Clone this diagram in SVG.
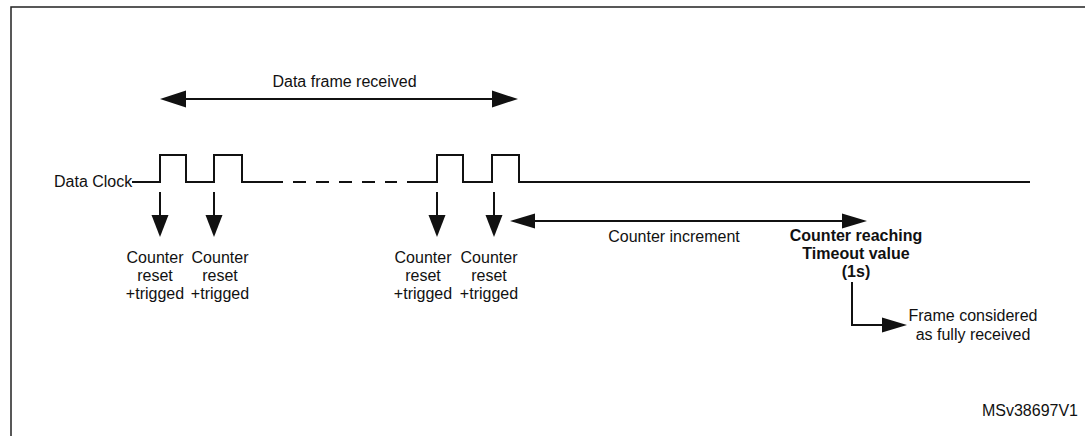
<svg xmlns="http://www.w3.org/2000/svg" width="1085" height="436" viewBox="0 0 1085 436">
<style>
text{font-family:"Liberation Sans",Arial,sans-serif;font-size:16px;fill:#111}
.b{font-weight:bold}
.ln{stroke:#111;stroke-width:2;fill:none}
.hd{fill:#111;stroke:none}
</style>
<rect x="11" y="7" width="1100" height="460" fill="#fff" stroke="#222" stroke-width="1.5"/>
<g id="connectors">
<path class="ln" d="M132,182 H160 V155 H186 V182 H214 V155 H242 V182 H283"/>
<path class="ln" d="M293,182 H397" stroke-dasharray="13,10"/>
<path class="ln" d="M407,182 H437 V155 H463 V182 H492 V155 H519 V182 H1030"/>
<path class="ln" d="M184,99 H494"/>
<polygon class="hd" points="160,99 186,90.5 186,107.5"/>
<polygon class="hd" points="518,99 492,90.5 492,107.5"/>
<path class="ln" d="M533,221 H844"/>
<polygon class="hd" points="510,221 535,213.5 535,228.5"/>
<polygon class="hd" points="867,221 842,213.5 842,228.5"/>
<path class="ln" d="M160,192 V216 M214,192 V216 M437,192 V216 M494,192 V216"/>
<polygon class="hd" points="151.5,215 168.5,215 160,237"/>
<polygon class="hd" points="205.5,215 222.5,215 214,237"/>
<polygon class="hd" points="428.5,215 445.5,215 437,237"/>
<polygon class="hd" points="485.5,215 502.5,215 494,237"/>
<path class="ln" d="M852,282 V325 H884"/>
<polygon class="hd" points="907,325 882,317.5 882,332.5"/>
</g>
<g id="label-clock"><text x="54" y="187">Data Clock</text></g>
<g id="label-frame"><text x="344.5" y="87" text-anchor="middle">Data frame received</text></g>
<g id="c1"><text text-anchor="middle" x="155" y="263">Counter<tspan x="155" dy="18">reset</tspan><tspan x="155" dy="18">+trigged</tspan></text></g>
<g id="c2"><text text-anchor="middle" x="220" y="263">Counter<tspan x="220" dy="18">reset</tspan><tspan x="220" dy="18">+trigged</tspan></text></g>
<g id="c3"><text text-anchor="middle" x="423" y="263">Counter<tspan x="423" dy="18">reset</tspan><tspan x="423" dy="18">+trigged</tspan></text></g>
<g id="c4"><text text-anchor="middle" x="489" y="263">Counter<tspan x="489" dy="18">reset</tspan><tspan x="489" dy="18">+trigged</tspan></text></g>
<g id="label-increment"><text x="674" y="242" text-anchor="middle">Counter increment</text></g>
<g id="timeout"><text class="b" text-anchor="middle" x="856" y="241">Counter reaching<tspan x="856" dy="18">Timeout value</tspan><tspan x="856" dy="18">(1s)</tspan></text></g>
<g id="frame-done"><text text-anchor="middle" x="973" y="321">Frame considered<tspan x="973" dy="19">as fully received</tspan></text></g>
<text x="1078" y="416" text-anchor="end">MSv38697V1</text>
</svg>
